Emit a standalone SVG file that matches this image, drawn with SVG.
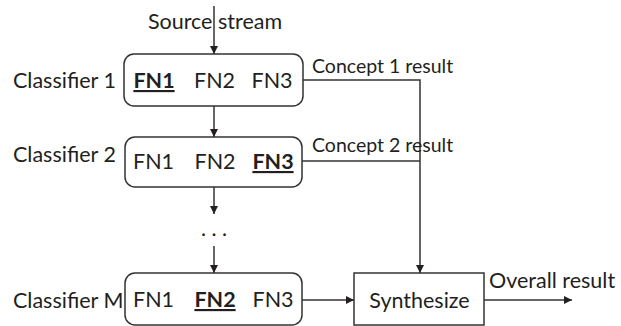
<svg xmlns="http://www.w3.org/2000/svg" width="621" height="326" viewBox="0 0 621 326">
<style>
text{font-family:"Lato","Open Sans","Liberation Sans",sans-serif;font-size:21.5px;fill:#231f20}
.m{text-anchor:middle}
.c{font-size:19.5px}
.b{font-weight:bold;text-decoration:underline}
.box{fill:#fff;stroke:#333;stroke-width:1.5}
.ln{fill:none;stroke:#333;stroke-width:1.5}
</style>
<defs>
<marker id="ah" viewBox="0 0 10 10" refX="10" refY="5" markerWidth="8" markerHeight="8" markerUnits="userSpaceOnUse" orient="auto">
<path d="M0,0 L10,5 L0,10 z" fill="#231f20"/>
</marker>
</defs>
<rect width="621" height="326" fill="#fff"/>
<g id="connectors">
<line class="ln" x1="214" y1="6" x2="214" y2="54" marker-end="url(#ah)"/>
<line class="ln" x1="214" y1="106" x2="214" y2="137" marker-end="url(#ah)"/>
<line class="ln" x1="214" y1="187" x2="214" y2="214" marker-end="url(#ah)"/>
<line class="ln" x1="214" y1="246" x2="214" y2="273" marker-end="url(#ah)"/>
<polyline class="ln" points="303,80 420,80 420,273" marker-end="url(#ah)"/>
<line class="ln" x1="302" y1="161" x2="420" y2="161"/>
<line class="ln" x1="302" y1="300" x2="354" y2="300" marker-end="url(#ah)"/>
<line class="ln" x1="484" y1="300" x2="572" y2="300" marker-end="url(#ah)"/>
</g>
<g id="source">
<text class="m" x="215" y="29">Source stream</text>
</g>
<g id="classifier1">
<rect class="box" x="124" y="54" width="179" height="52" rx="10"/>
<text x="13" y="88">Classifier 1</text>
<text class="m b" x="154" y="88">FN1</text>
<text class="m" x="214.5" y="88">FN2</text>
<text class="m" x="272" y="88">FN3</text>
<text class="c" x="312" y="73">Concept 1 result</text>
</g>
<g id="classifier2">
<rect class="box" x="125" y="137" width="177" height="50" rx="10"/>
<text x="13" y="162">Classifier 2</text>
<text class="m" x="153.5" y="169">FN1</text>
<text class="m" x="215" y="169">FN2</text>
<text class="m b" x="273" y="169">FN3</text>
<text class="c" x="312" y="152">Concept 2 result</text>
</g>
<g id="dots">
<text class="m" x="214" y="236">. . .</text>
</g>
<g id="classifierM">
<rect class="box" x="125" y="273" width="177" height="52" rx="10"/>
<text x="13" y="308">Classifier M</text>
<text class="m" x="153.5" y="307">FN1</text>
<text class="m b" x="215" y="307">FN2</text>
<text class="m" x="273" y="307">FN3</text>
</g>
<g id="synthesize">
<rect x="354" y="273" width="130" height="52" fill="#fff" stroke="#333" stroke-width="1.5"/>
<text class="m" x="419.5" y="308">Synthesize</text>
</g>
<g id="overall">
<text x="489" y="288">Overall result</text>
</g>
</svg>
